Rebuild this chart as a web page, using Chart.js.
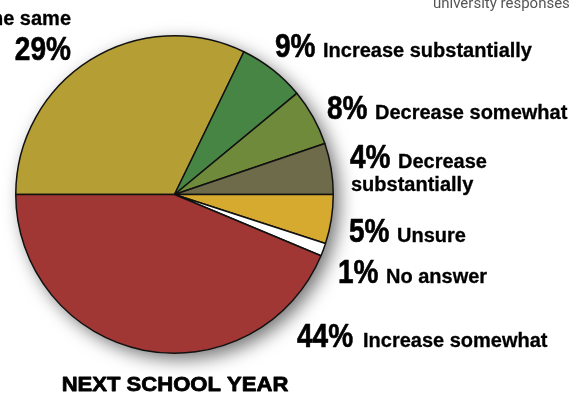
<!DOCTYPE html>
<html>
<head>
<meta charset="utf-8">
<script src="https://cdn.jsdelivr.net/npm/chart.js@4/dist/chart.umd.min.js"></script>
<style>
  html, body { margin: 0; padding: 0; background: #ffffff; }
  #wrap { width: 584px; height: 393px; position: relative; }
</style>
</head>
<body>
<div id="wrap"><canvas id="c" width="584" height="393"></canvas></div>
<script>
// ---- data ----
const categories = ["Remain the same", "Increase substantially", "Decrease somewhat",
                    "Decrease substantially", "Unsure", "No answer", "Increase somewhat"];
// percentages printed on the chart
const printedPercents = [29, 9, 8, 4, 5, 1, 44];
// slice shares as drawn (angles)
const sliceShares = [32.2, 6.8, 5.8, 5.2, 5.0, 1.3, 43.7];
const sliceColors = ["#B59E33", "#478545", "#6F8A3A", "#6E6B4B", "#D6A92F", "#FFFFFF", "#A03734"];

const NUM_FONT = "bold 33px 'Liberation Sans', Arial, sans-serif";
const TXT_FONT = "bold 20px 'Liberation Sans', Arial, sans-serif";

function drawScaled(ctx, text, x, y, font, sx, align, stroke) {
  ctx.save();
  ctx.font = font;
  ctx.textBaseline = "alphabetic";
  ctx.textAlign = "left";
  const w = ctx.measureText(text).width * sx;
  let left = x;
  if (align === "right") left = x - w;
  else if (align === "center") left = x - w / 2;
  ctx.translate(left, y);
  ctx.scale(sx, 1);
  ctx.fillText(text, 0, 0);
  if (stroke) {
    ctx.lineWidth = stroke;
    ctx.strokeStyle = ctx.fillStyle;
    ctx.lineJoin = "round";
    ctx.strokeText(text, 0, 0);
  }
  ctx.restore();
  return w;
}

const shadowPlugin = {
  id: "pieShadow",
  beforeDatasetsDraw(chart) {
    const arc = chart.getDatasetMeta(0).data[0];
    if (!arc) return;
    const ctx = chart.ctx;
    ctx.save();
    ctx.shadowColor = "rgba(0,0,0,0.55)";
    ctx.shadowBlur = 18;
    ctx.shadowOffsetX = 6;
    ctx.shadowOffsetY = 6;
    ctx.beginPath();
    ctx.arc(arc.x, arc.y, arc.outerRadius, 0, Math.PI * 2);
    ctx.fillStyle = "#ffffff";
    ctx.fill();
    ctx.restore();
  }
};

// label placements (annotation text only)
const labelSpots = [
  { i: 0, nx: 71, ny: 60, align: "right", txt: "Remain the same", tx: 71, ty: 25, talign: "right" },
  { i: 1, nx: 275, ny: 57, tx: 323, ty: 57 },
  { i: 2, nx: 327, ny: 119, tx: 375, ty: 119 },
  { i: 3, nx: 350, ny: 168, tx: 398, ty: 168, txt: "Decrease", txt2: "substantially", t2x: 351, t2y: 191 },
  { i: 4, nx: 349, ny: 242, tx: 397, ty: 242 },
  { i: 5, nx: 338, ny: 283, tx: 386, ty: 283 },
  { i: 6, nx: 297, ny: 347, tx: 363, ty: 347 }
];

const labelPlugin = {
  id: "labels",
  afterDraw(chart) {
    const ctx = chart.ctx;
    ctx.save();
    ctx.fillStyle = "#000000";
    labelSpots.forEach(s => {
      const num = printedPercents[s.i] + "%";
      drawScaled(ctx, num, s.nx, s.ny, NUM_FONT, 0.85, s.align || "left", 0.6);
      const t = s.txt || categories[s.i];
      drawScaled(ctx, t, s.tx, s.ty, TXT_FONT, 1, s.talign || "left", 0.3);
      if (s.txt2) drawScaled(ctx, s.txt2, s.t2x, s.t2y, TXT_FONT, 1, "left", 0.3);
    });
    // footer title
    drawScaled(ctx, "NEXT SCHOOL YEAR", 175, 391, "bold 21px 'Liberation Sans', Arial, sans-serif", 1.05, "center", 0.8);
    // cropped source note at top right
    ctx.fillStyle = "#555555";
    ctx.font = "15px Roboto, 'Liberation Sans', sans-serif";
    ctx.textAlign = "left";
    ctx.textBaseline = "alphabetic";
    ctx.fillText("university responses", 433, 8);
    ctx.restore();
  }
};

new Chart(document.getElementById("c"), {
  type: "pie",
  data: {
    labels: categories,
    datasets: [{
      data: sliceShares,
      backgroundColor: sliceColors,
      borderColor: "#111111",
      borderWidth: 1.5
    }]
  },
  options: {
    responsive: false,
    animation: false,
    rotation: -90,
    layout: { padding: { left: 15, top: 35, right: 250, bottom: 39 } },
    plugins: { legend: { display: false }, tooltip: { enabled: false } }
  },
  plugins: [shadowPlugin, labelPlugin]
});
</script>
</body>
</html>
